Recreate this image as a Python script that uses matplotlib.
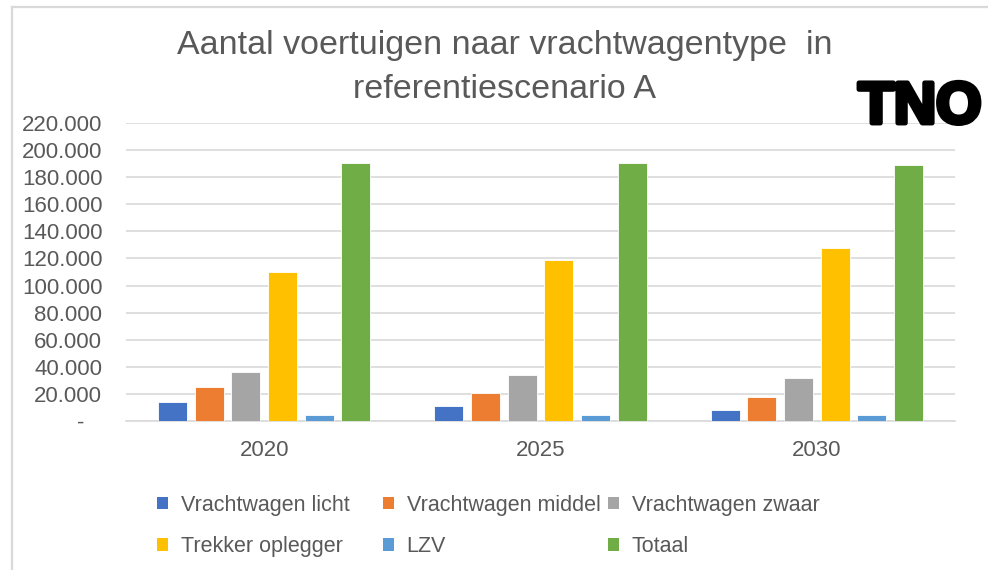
import matplotlib
matplotlib.use("Agg")
import matplotlib.pyplot as plt
import numpy as np
from matplotlib.patches import Patch
from matplotlib.lines import Line2D
from matplotlib.ticker import FuncFormatter
import matplotlib.patheffects as pe

# ----------------------------
# Data
# ----------------------------
years = ["2020", "2025", "2030"]
series_names = ["Vrachtwagen licht", "Vrachtwagen middel", "Vrachtwagen zwaar",
                "Trekker oplegger", "LZV", "Totaal"]
licht = [13600, 11100, 7700]
middel = [25100, 20700, 17300]
zwaar = [36300, 33800, 31300]
trekker = [110200, 118900, 127700]
lzv = [4200, 4200, 4200]
totaal = [190400, 190400, 189300]
series_values = [licht, middel, zwaar, trekker, lzv, totaal]
colors = ["#4472C4", "#ED7D31", "#A5A5A5", "#FFC000", "#5B9BD5", "#70AD47"]

text_col = "#595959"
grid_col = "#D9D9D9"
plt.rcParams["font.family"] = ["Liberation Sans", "DejaVu Sans"]

fig = plt.figure(figsize=(9.88, 5.70), dpi=100)
ax = fig.add_axes([0.1275, 0.2619, 0.8391, 0.5218])

# ----------------------------
# Bars
# ----------------------------
x = np.arange(len(years))
slot = 0.1328
width = 0.105
for i, (vals, col) in enumerate(zip(series_values, colors)):
    ax.bar(x + (i - 2.5) * slot, vals, width=width, color=col,
           edgecolor="white", linewidth=0.6, zorder=3)

ax.set_xlim(-0.5, 2.5)
ax.set_ylim(0, 220000)
ax.set_yticks(range(0, 220001, 20000))


def fmt(v, pos):
    if v == 0:
        return "-   "
    return f"{int(v):,}".replace(",", ".")


ax.yaxis.set_major_formatter(FuncFormatter(fmt))
ax.set_xticks(x)
ax.set_xticklabels(years)
ax.tick_params(axis="y", length=0, pad=17, labelsize=16, labelcolor=text_col)
ax.tick_params(axis="x", length=0, pad=14, labelsize=16, labelcolor=text_col)
ax.grid(axis="y", color=grid_col, linewidth=1.2, zorder=0)
for s in ["top", "right", "left"]:
    ax.spines[s].set_visible(False)
ax.spines["bottom"].set_color(grid_col)
ax.spines["bottom"].set_linewidth(1.2)

# ----------------------------
# Title and logo
# ----------------------------
fig.text(0.511, 0.881, "Aantal voertuigen naar vrachtwagentype  in\nreferentiescenario A",
         ha="center", va="center", multialignment="center",
         fontsize=24.5, color=text_col, linespacing=1.55)
fig.text(0.9935, 0.8105, "TNO", ha="right", va="center", fontsize=42,
         fontweight="bold", color="black",
         path_effects=[pe.withStroke(linewidth=3.5, foreground="black")])

# ----------------------------
# Legend (three fixed-width columns)
# ----------------------------
handles = [Patch(facecolor=c, edgecolor="none") for c in colors]
col_x = [0.159, 0.3877, 0.6154]
for c in range(3):
    fig.legend([handles[c], handles[c + 3]],
               [series_names[c], series_names[c + 3]],
               loc="upper left", bbox_to_anchor=(col_x[c], 0.132),
               bbox_transform=fig.transFigure, frameon=False,
               fontsize=15.5, labelcolor=text_col,
               handlelength=0.5, handleheight=0.5, handletextpad=0.6,
               labelspacing=0.95, borderaxespad=0, borderpad=0)

# ----------------------------
# Chart frame lines (top and left)
# ----------------------------
fig.add_artist(Line2D([12 / 988, 1.0], [1 - 7 / 570, 1 - 7 / 570],
                      color=grid_col, linewidth=1.6, transform=fig.transFigure))
fig.add_artist(Line2D([12 / 988, 12 / 988], [0.0, 1 - 7 / 570],
                      color=grid_col, linewidth=1.6, transform=fig.transFigure))

fig.savefig("out.png", dpi=100)
plt.close(fig)
